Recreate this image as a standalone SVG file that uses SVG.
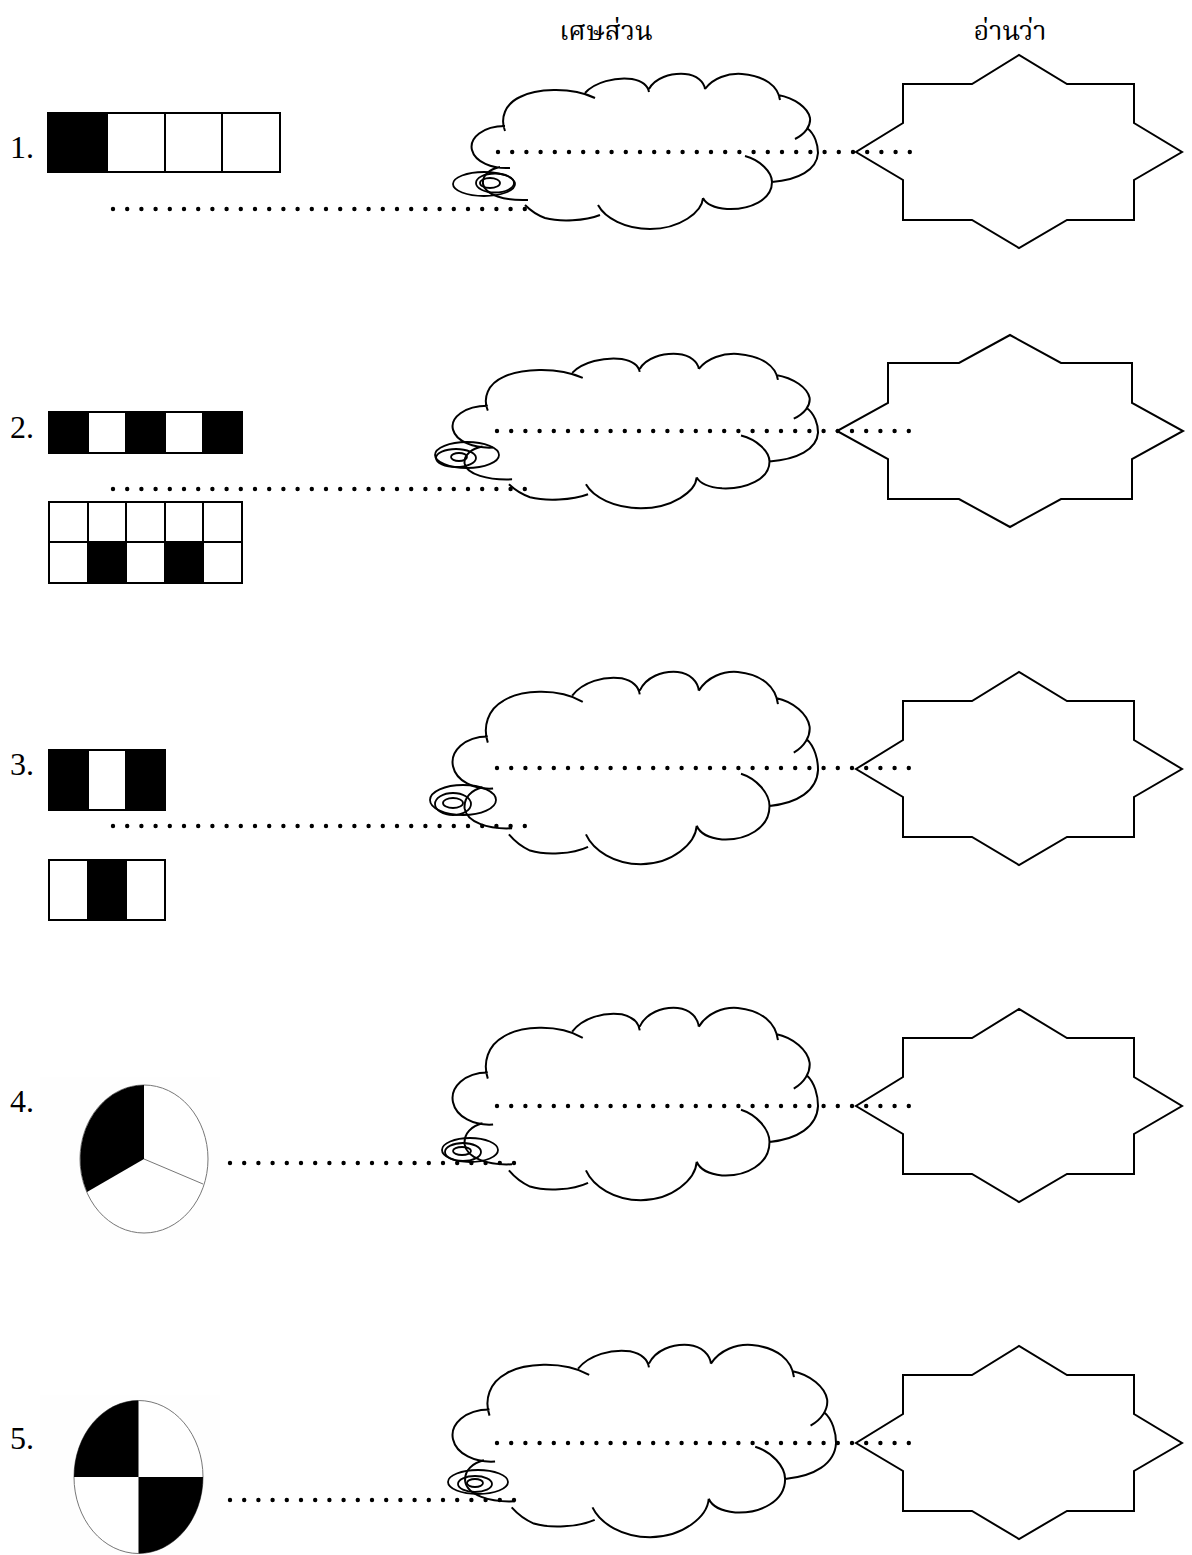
<svg xmlns="http://www.w3.org/2000/svg" xmlns:xlink="http://www.w3.org/1999/xlink" width="1192" height="1555" viewBox="0 0 1192 1555">
<style>
.num{font-family:"Liberation Serif","Times New Roman",serif;font-size:32px;fill:#000}
.hdr{font-family:"Noto Serif Thai","Noto Sans Thai","Liberation Serif",serif;font-size:27px;fill:#000}
.cell{stroke:#000;stroke-width:2;fill:#fff}
.blk{stroke:#000;stroke-width:2;fill:#000}
.cloud{fill:none;stroke:#000;stroke-width:2}
.tail{fill:none;stroke:#000;stroke-width:1.8}
.star{fill:#fff;stroke:#000;stroke-width:2;stroke-linejoin:miter}
.dots{stroke:#000;stroke-width:4.4;stroke-linecap:round;stroke-dasharray:0 14.2;fill:none}
.pieo{fill:#fff;stroke:#777;stroke-width:1}
.pieb{fill:#000;stroke:none}
.piel{stroke:#777;stroke-width:1}
</style>
<defs>
<path id="cloud" class="cloud" vector-effect="non-scaling-stroke" d="M505,126 C483,126 469,138 472,150 C475,162 492,169 510,168 M505,131 C500,118 505,104 520,97 C535,89 570,86 595,98 M585,93 C595,82 615,77 632,79 C642,81 648,86 649,92 M649,89 C655,78 670,73 685,74 C697,75 704,82 705,89 M705,89 C713,78 728,73 742,74 C765,76 778,86 780,100 M778,95 C795,98 808,108 810,118 C811,126 805,134 795,139 M807,128 C815,134 818,145 818,153 C817,170 798,180 772,182 M745,156 C760,160 772,172 772,182 C772,200 750,210 727,209 C715,208 706,204 703,198 M703,198 C702,212 680,229 650,229 C625,229 605,218 598,205 M600,215 C585,221 560,222 545,218 C537,215 530,210 525,205 M528,200 C505,201 485,195 483,184 C482,175 490,169 500,167"/>
<polygon id="star" class="star" points="903,84 972,84 1019,55 1067,84 1134,84 1134,123 1182,152 1134,180 1134,220 1067,220 1019,248 972,220 903,220 903,180 856,152 903,123"/>
</defs>

<g id="headers">
<text class="hdr" x="606" y="40" text-anchor="middle">เศษส่วน</text>
<text class="hdr" x="1010" y="40" text-anchor="middle">อ่านว่า</text>
</g>

<!-- Row 1 -->
<g id="row1-label"><text class="num" x="10" y="158">1.</text></g>
<g id="row1-bar">
<rect class="blk" x="48" y="113" width="59" height="59"/>
<rect class="cell" x="107" y="113" width="58" height="59"/>
<rect class="cell" x="165" y="113" width="57" height="59"/>
<rect class="cell" x="222" y="113" width="58" height="59"/>
</g>
<g id="row1-cloud">
<use xlink:href="#cloud"/>
<ellipse class="tail" cx="484" cy="184" rx="31" ry="12"/>
<ellipse class="tail" cx="495" cy="183" rx="19" ry="9.5"/>
<ellipse class="tail" cx="490" cy="183" rx="10" ry="5"/>
</g>
<g id="row1-star"><use xlink:href="#star"/></g>

<!-- Row 2 -->
<g id="row2-label"><text class="num" x="10" y="438">2.</text></g>
<g id="row2-bar">
<rect class="blk" x="49" y="412" width="39" height="41"/>
<rect class="cell" x="88" y="412" width="38" height="41"/>
<rect class="blk" x="126" y="412" width="39" height="41"/>
<rect class="cell" x="165" y="412" width="38" height="41"/>
<rect class="blk" x="203" y="412" width="39" height="41"/>
</g>
<g id="row2-grid">
<rect class="cell" x="49" y="502" width="39" height="40"/>
<rect class="cell" x="88" y="502" width="38" height="40"/>
<rect class="cell" x="126" y="502" width="39" height="40"/>
<rect class="cell" x="165" y="502" width="38" height="40"/>
<rect class="cell" x="203" y="502" width="39" height="40"/>
<rect class="cell" x="49" y="542" width="39" height="41"/>
<rect class="blk" x="88" y="542" width="38" height="41"/>
<rect class="cell" x="126" y="542" width="39" height="41"/>
<rect class="blk" x="165" y="542" width="38" height="41"/>
<rect class="cell" x="203" y="542" width="39" height="41"/>
</g>
<g id="row2-cloud">
<use xlink:href="#cloud" transform="translate(453,354) scale(1.055,0.995) translate(-472,-74)"/>
<ellipse class="tail" cx="467" cy="455" rx="32" ry="13"/>
<ellipse class="tail" cx="456" cy="458" rx="20" ry="9"/>
<ellipse class="tail" cx="459" cy="457" rx="8" ry="4"/>
</g>
<g id="row2-star"><polygon class="star" points="888,363 959,363 1010,335 1061,363 1132,363 1132,403 1183,431 1132,459 1132,499 1061,499 1010,527 959,499 888,499 888,459 837,431 888,403"/></g>

<!-- Row 3 -->
<g id="row3-label"><text class="num" x="10" y="775">3.</text></g>
<g id="row3-bar">
<rect class="blk" x="49" y="750" width="39" height="60"/>
<rect class="cell" x="88" y="750" width="38" height="60"/>
<rect class="blk" x="126" y="750" width="39" height="60"/>
</g>
<g id="row3-bar2">
<rect class="cell" x="49" y="860" width="39" height="60"/>
<rect class="blk" x="88" y="860" width="38" height="60"/>
<rect class="cell" x="126" y="860" width="39" height="60"/>
</g>
<g id="row3-cloud">
<use xlink:href="#cloud" transform="translate(453,672) scale(1.055,1.24) translate(-472,-74)"/>
<ellipse class="tail" cx="463" cy="800" rx="33" ry="15"/>
<ellipse class="tail" cx="453" cy="804" rx="18" ry="11"/>
<ellipse class="tail" cx="453" cy="803" rx="10" ry="5"/>
</g>
<g id="row3-star"><use xlink:href="#star" transform="translate(0,617)"/></g>

<!-- Row 4 -->
<g id="row4-label"><text class="num" x="10" y="1112">4.</text></g>
<g id="row4-pie">
<rect x="40" y="1077" width="180" height="163" fill="#fefefe"/>
<ellipse class="pieo" cx="144" cy="1159" rx="64" ry="74"/>
<path class="pieb" d="M144,1159 L144,1085 A64,74 0 0,0 87,1192 Z"/>
<line class="piel" x1="144" y1="1159" x2="203" y2="1184"/>
</g>
<g id="row4-cloud">
<use xlink:href="#cloud" transform="translate(453,1008) scale(1.055,1.24) translate(-472,-74)"/>
<ellipse class="tail" cx="470" cy="1150" rx="28" ry="12"/>
<ellipse class="tail" cx="463" cy="1152" rx="18" ry="9"/>
<ellipse class="tail" cx="462" cy="1151" rx="9" ry="4"/>
</g>
<g id="row4-star"><use xlink:href="#star" transform="translate(0,954)"/></g>

<!-- Row 5 -->
<g id="row5-label"><text class="num" x="10" y="1449">5.</text></g>
<g id="row5-pie">
<rect x="40" y="1395" width="180" height="160" fill="#fefefe"/>
<ellipse class="pieo" cx="138.5" cy="1477" rx="64.5" ry="76.5"/>
<path class="pieb" d="M138.5,1477 L138.5,1400.5 A64.5,76.5 0 0,0 74,1477 Z"/>
<path class="pieb" d="M138.5,1477 L203,1477 A64.5,76.5 0 0,1 138.5,1553.5 Z"/>
</g>
<g id="row5-cloud">
<use xlink:href="#cloud" transform="translate(453,1345) scale(1.107,1.24) translate(-472,-74)"/>
<ellipse class="tail" cx="478" cy="1482" rx="30" ry="12"/>
<ellipse class="tail" cx="475" cy="1484" rx="17" ry="8"/>
<ellipse class="tail" cx="475" cy="1483" rx="8" ry="4"/>
</g>
<g id="row5-star"><use xlink:href="#star" transform="translate(0,1291)"/></g>

<g id="connectors">
<line class="dots" x1="498" y1="152" x2="922" y2="152"/>
<line class="dots" x1="113" y1="209" x2="528" y2="209"/>
<line class="dots" x1="497" y1="431" x2="922" y2="431"/>
<line class="dots" x1="113" y1="489" x2="528" y2="489"/>
<line class="dots" x1="497" y1="768" x2="922" y2="768"/>
<line class="dots" x1="113" y1="826" x2="528" y2="826"/>
<line class="dots" x1="497" y1="1106" x2="922" y2="1106"/>
<line class="dots" x1="230" y1="1163" x2="528" y2="1163"/>
<line class="dots" x1="497" y1="1443" x2="922" y2="1443"/>
<line class="dots" x1="230" y1="1500" x2="528" y2="1500"/>
</g>
</svg>
